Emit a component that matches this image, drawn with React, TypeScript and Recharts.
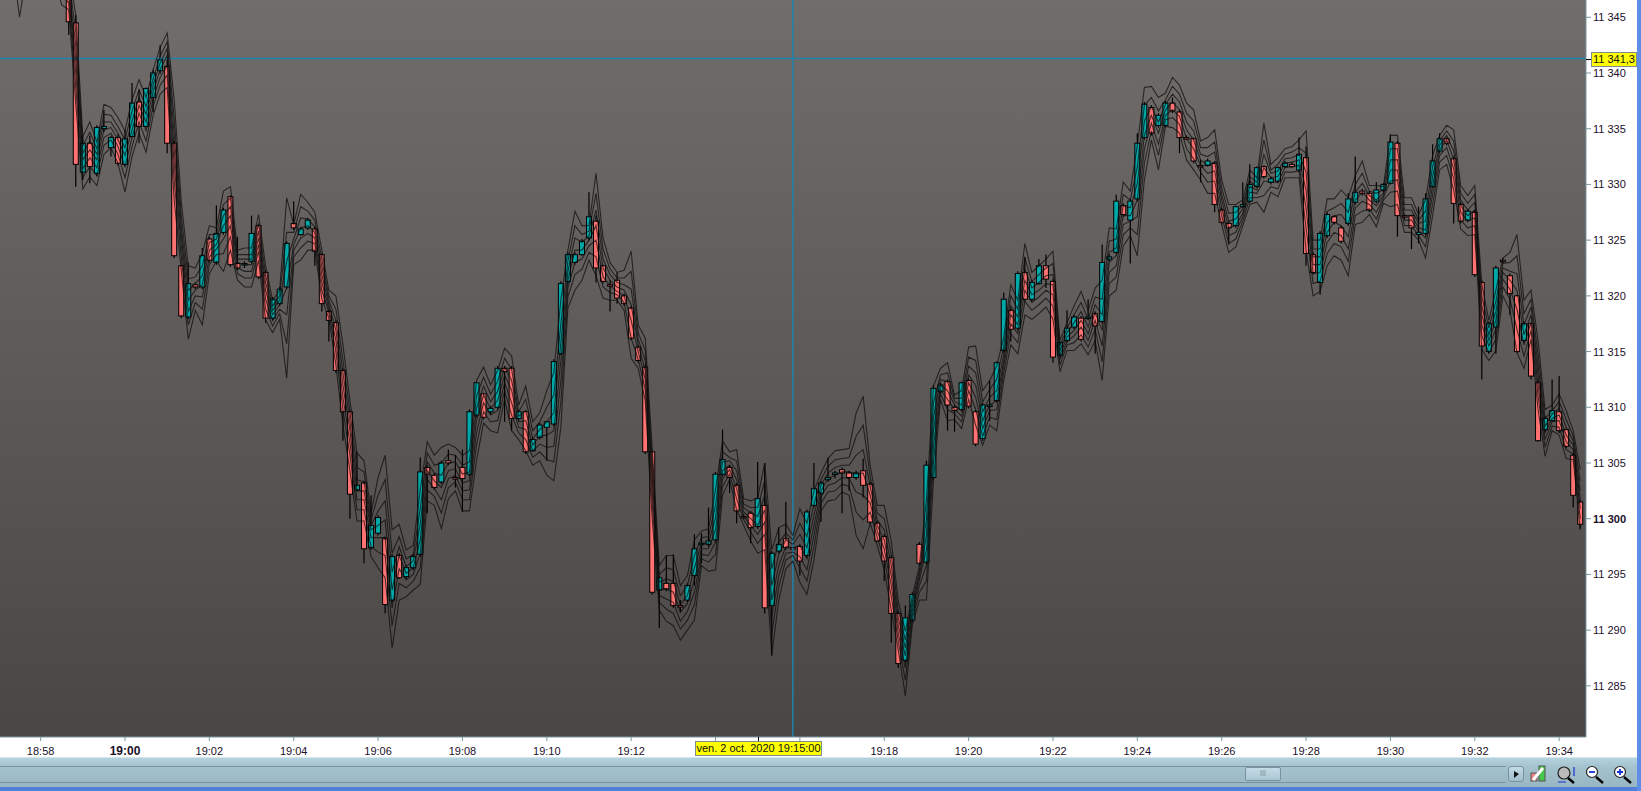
import React from "react";
import {
  ComposedChart,
  Bar,
  Line,
  XAxis,
  YAxis,
  CartesianGrid,
  ReferenceLine,
} from "recharts";

const BASE = 11300;
const FIRST_BAR = -17;

const xTicks = [-12, 0, 12, 24, 36, 48, 60, 72, 84, 96, 108, 120, 132, 144, 156, 168, 180, 192, 204];
const xTickLabels = ["18:58", "19:00", "19:02", "19:04", "19:06", "19:08", "19:10", "19:12", "", "", "19:18", "19:20", "19:22", "19:24", "19:26", "19:28", "19:30", "19:32", "19:34"];
const yTicks = [11285, 11290, 11295, 11300, 11305, 11310, 11315, 11320, 11325, 11330, 11335, 11340, 11345];

const crossPrice = 11341.3;
const crossBar = 95;
const crossPriceLabel = "11 341,3";
const crossTimeLabel = "ven. 2 oct. 2020 19:15:00";

const N = null;
const opens = [N, N, N, N, N, N, N, N, N,
  47.0, 44.5, 31.1, 33.7, 31.0, 35.0, 33.3, 34.2,
  31.8, 34.3, 37.4, 35.2, 37.8, 40.2, 40.6, 33.7, 22.7, 18.1, 21.0, 20.8,
  25.1, 23.0, 25.7, 28.9, 22.9, 22.8, 23.1, 26.3, 22.1, 18.0, 19.3, 20.8,
  26.5, 25.5, 26.1, 26.0, 23.7, 18.6, 17.6, 13.3, 9.6, 2.6, 3.2, -2.6,
  -1.3, -1.8, -7.3, -3.3, -5.2, -4.4, -3.2, 4.6, 3.9, 3.3, 5.2, 3.7,
  4.6, 4.0, 9.3, 11.2, 9.6, 10.0, 13.5, 13.5, 9.0, 9.6, 6.1, 7.3,
  8.2, 8.5, 14.8, 21.3, 23.0, 23.7, 25.2, 26.7, 22.7, 21.0, 21.4, 20.0,
  18.9, 15.4, 13.6, 6.0, -6.4, -5.8, -5.8, -7.8, -7.3, -5.1, -2.3, -2.3,
  -1.9, 4.0, 4.6, 3.0, 0.2, 0.5, -0.7, 1.2, -7.8, -2.9, -1.8, -2.6,
  -2.5, -3.3, 1.2, 2.3, 3.5, 4.0, 4.4, 4.1, 3.7, 4.3, 3.1, -0.4,
  -1.6, -3.5, -8.5, -12.7, -9.1, -2.3, -3.9, 3.7, 11.4, 12.3, 10.0, 9.8,
  12.4, 9.6, 7.2, 10.1, 10.6, 15.1, 18.7, 17.1, 22.1, 19.7, 21.1, 22.7,
  21.3, 14.7, 16.0, 17.2, 18.0, 18.0, 18.4, 17.7, 23.3, 23.9, 28.1, 26.8,
  28.7, 34.2, 36.9, 35.3, 35.3, 37.3, 36.5, 34.2, 34.1, 31.7, 31.7, 31.9,
  27.7, 26.5, 26.3, 28.0, 28.5, 29.8, 31.6, 30.2, 30.3, 31.6, 31.8, 31.3,
  32.4, 23.7, 21.2, 25.4, 27.1, 26.1, 26.5, 28.4, 29.4, 29.2, 28.5, 29.5,
  30.1, 33.7, 27.2, 27.2, 25.5, 25.6, 29.8, 33.0, 34.1, 32.3, 28.2, 26.8,
  27.5, 21.2, 15.0, 17.2, 23.2, 21.8, 20.0, 16.0, 17.5, 12.2, 8.0, 8.8,
  9.6, 8.0, 5.7, 1.5];

const closes = [N, N, N, N, N, N, N, N, N,
  44.6, 31.8, 33.7, 31.6, 35.1, 35.2, 34.2, 31.9,
  34.1, 37.3, 35.2, 38.6, 40.0, 41.2, 33.7, 23.6, 18.2, 21.1, 20.8, 23.6,
  23.2, 25.6, 27.7, 22.8, 22.5, 22.9, 25.6, 21.7, 18.0, 19.7, 20.6, 24.7,
  26.1, 26.0, 26.8, 24.0, 19.3, 17.8, 13.3, 9.6, 2.2, 3.0, -2.7, -0.6,
  0.1, -7.7, -3.4, -5.3, -4.4, -3.4, 4.2, 4.0, 2.8, 5.0, 5.0, 3.6,
  3.6, 9.6, 12.2, 9.1, 9.9, 13.5, 13.2, 9.0, 9.6, 6.0, 7.1, 8.4,
  8.7, 14.1, 21.1, 23.7, 23.7, 24.9, 27.1, 22.5, 21.3, 20.9, 19.8, 19.3,
  16.2, 14.2, 6.0, -6.6, -5.3, -6.3, -7.8, -7.9, -6.0, -2.7, -2.2, -2.0,
  4.0, 5.3, 3.7, 0.7, 0.1, -0.8, 1.8, -8.0, -3.1, -2.3, -2.6, -2.7,
  -3.8, 0.6, 2.7, 3.2, 3.7, 4.1, 4.1, 3.7, 4.1, 3.0, -0.3, -2.0,
  -3.8, -8.5, -13.0, -8.9, -6.8, -4.0, 4.8, 11.7, 12.0, 10.2, 9.7, 12.2,
  10.1, 6.7, 10.2, 10.2, 14.0, 19.7, 17.0, 22.0, 19.7, 21.2, 22.7, 21.5,
  14.5, 15.8, 17.1, 18.1, 16.1, 18.1, 17.3, 23.0, 23.5, 28.5, 27.3, 28.5,
  33.7, 37.2, 34.6, 36.2, 37.3, 36.6, 34.2, 34.1, 32.1, 31.6, 32.1, 28.2,
  26.6, 26.1, 28.0, 28.2, 30.0, 31.5, 30.7, 30.5, 31.5, 31.9, 31.6, 32.7,
  23.8, 22.1, 25.6, 27.3, 26.6, 24.9, 28.7, 29.3, 29.2, 27.7, 29.5, 30.0,
  33.8, 27.2, 27.1, 26.1, 25.7, 28.7, 32.1, 34.1, 33.7, 28.3, 26.7, 27.6,
  21.9, 15.5, 17.5, 22.5, 23.1, 20.2, 15.0, 17.5, 12.8, 7.0, 9.0, 9.7,
  7.9, 6.5, 2.1, -0.5];

const highs = [N, N, N, N, N, N, N, N, N,
  47.5, 45.2, 34.4, 34.4, 35.3, 36.7, 34.4, 34.5,
  34.9, 39.1, 38.5, 38.7, 40.3, 42.5, 41.2, 33.9, 22.8, 23.0, 21.2, 24.3,
  25.3, 28.1, 27.9, 29.0, 25.3, 23.1, 27.2, 26.4, 22.3, 19.9, 20.8, 24.9,
  28.5, 26.2, 27.0, 26.2, 23.8, 18.8, 17.8, 13.5, 9.7, 6.0, 3.4, 2.1,
  0.3, -1.6, -3.2, -3.1, -4.2, -3.2, 5.5, 4.8, 4.1, 5.2, 6.2, 5.7,
  6.2, 9.8, 12.3, 11.3, 10.1, 13.7, 13.7, 13.7, 9.7, 9.7, 7.3, 8.6,
  8.8, 14.3, 21.3, 23.9, 23.9, 25.1, 29.3, 27.2, 22.8, 21.4, 22.1, 20.2,
  19.1, 15.6, 13.8, 6.1, -5.1, -3.3, -3.2, -7.3, -5.8, -1.4, -1.3, 1.0,
  4.2, 8.0, 4.8, 3.2, 0.4, 0.7, 5.1, 5.0, -2.9, -0.8, 1.5, -2.4,
  -2.3, 0.8, 5.0, 3.4, 5.5, 4.3, 4.6, 4.3, 4.3, 5.4, 3.3, -0.2,
  -1.4, -3.3, -8.3, -7.8, -6.6, -2.1, 5.2, 12.0, 12.2, 12.5, 10.2, 12.3,
  12.6, 9.8, 10.4, 12.4, 14.1, 20.3, 18.9, 22.2, 23.5, 21.4, 23.3, 23.7,
  21.5, 15.9, 18.7, 18.3, 18.2, 19.7, 18.6, 24.6, 23.7, 29.1, 28.3, 28.7,
  34.6, 37.4, 37.1, 36.4, 37.5, 37.8, 36.7, 34.4, 34.2, 32.2, 32.3, 32.1,
  27.9, 26.7, 28.1, 30.2, 31.8, 31.6, 31.7, 30.7, 31.6, 32.1, 32.0, 34.2,
  33.4, 23.9, 25.8, 27.5, 27.2, 26.3, 29.2, 32.5, 29.6, 29.4, 30.2, 30.1,
  34.5, 33.9, 27.3, 27.3, 28.0, 29.2, 33.6, 34.6, 34.2, 32.5, 28.4, 27.8,
  27.7, 21.4, 17.7, 22.7, 23.4, 22.0, 20.1, 17.7, 17.6, 12.4, 9.2, 12.5,
  12.8, 8.1, 5.9, 1.7];

const lows = [N, N, N, N, N, N, N, N, N,
  43.4, 29.8, 30.4, 30.1, 30.7, 34.7, 32.5, 31.7,
  31.6, 34.2, 33.7, 35.1, 36.5, 39.9, 32.8, 23.4, 18.0, 17.9, 20.6, 20.6,
  23.0, 22.8, 25.5, 22.6, 22.3, 22.5, 22.9, 21.5, 17.6, 17.8, 19.1, 20.6,
  25.9, 25.4, 25.9, 22.7, 18.6, 15.9, 13.1, 7.0, 0.0, 2.5, -4.0, -2.8,
  -1.5, -8.5, -7.5, -5.4, -5.4, -4.6, -3.4, 0.5, 2.6, 3.1, 4.8, 2.8,
  0.6, 3.8, 9.1, 8.9, 9.4, 9.8, 8.7, 7.9, 8.8, 5.8, 6.0, 7.1,
  5.2, 8.3, 14.7, 21.1, 22.8, 23.6, 25.0, 21.2, 21.1, 18.6, 19.3, 19.1,
  16.0, 14.0, 5.8, -6.8, -9.8, -6.5, -8.0, -8.4, -7.5, -6.0, -4.0, -2.5,
  -2.1, 3.8, 2.3, -0.4, 0.0, -2.2, -0.9, -8.5, -12.3, -3.1, -2.8, -2.9,
  -5.1, -3.5, 1.0, -0.3, 3.3, 3.6, 0.5, 2.5, 3.5, 1.9, -0.5, -2.1,
  -5.6, -11.1, -13.4, -12.9, -9.3, -4.2, -4.1, 3.5, 11.2, 7.9, 7.8, 9.6,
  9.9, 6.5, 7.0, 8.8, 10.4, 14.9, 15.9, 16.9, 19.5, 19.5, 21.0, 20.7,
  14.0, 14.5, 15.8, 17.0, 15.9, 17.8, 14.8, 17.5, 23.1, 23.7, 27.1, 22.9,
  28.5, 34.0, 34.4, 35.1, 35.1, 36.4, 32.8, 34.0, 31.9, 30.2, 31.6, 27.5,
  26.4, 24.6, 26.1, 27.9, 28.3, 29.7, 30.5, 30.0, 30.1, 31.5, 31.5, 31.1,
  22.7, 21.9, 20.1, 25.2, 26.4, 24.7, 26.3, 28.2, 29.0, 27.5, 28.3, 29.3,
  30.0, 25.3, 26.9, 24.2, 24.7, 25.4, 29.7, 32.8, 33.5, 26.5, 26.5, 26.6,
  21.7, 12.5, 14.8, 14.8, 22.9, 18.3, 14.9, 15.8, 12.5, 6.9, 7.8, 8.7,
  7.7, 6.3, 1.0, -0.9];

const basisBand = [53, 52, 51, 51, 51, 51, 51, 50, 49,
  47.4, 41.2, 32.2, 33.1, 32.2, 34.9, 35.1, 34.0,
  32.6, 34.9, 37.1, 35.6, 38.3, 40.3, 41.6, 33.1, 25.4, 19.6, 20.5, 21.0,
  24.1, 24.6, 26.3, 27.2, 23.0, 22.8, 22.8, 25.2, 20.5, 18.3, 19.2, 20.7,
  24.6, 26.1, 26.3, 25.7, 21.9, 19.2, 16.9, 12.0, 7.9, 2.5, 2.5, -1.0,
  -0.6, -0.1, -6.4, -3.3, -4.9, -4.4, -1.9, 4.3, 3.4, 2.8, 4.3, 4.5,
  3.2, 3.4, 8.8, 11.1, 9.9, 10.6, 12.9, 11.5, 8.7, 8.8, 6.6, 7.4,
  7.5, 7.9, 14.2, 21.4, 24.1, 24.1, 25.0, 26.3, 22.5, 21.4, 20.8, 20.5,
  19.2, 15.6, 13.3, 3.5, -6.4, -6.3, -6.6, -8.4, -7.6, -5.5, -2.7, -2.7,
  -1.0, 4.3, 4.8, 3.5, 0.6, 0.0, -0.6, 0.8, -7.3, -4.2, -2.5, -2.6,
  -2.4, -3.6, -0.6, 2.5, 3.6, 3.9, 4.2, 4.2, 4.0, 4.1, 2.1, -0.6,
  -1.9, -5.1, -9.6, -12.3, -8.2, -5.5, -2.8, 7.9, 12.0, 11.5, 10.2, 9.7,
  12.9, 12.0, 8.8, 10.2, 10.6, 14.2, 18.3, 17.4, 21.4, 20.1, 20.5, 21.1,
  21.0, 14.7, 16.3, 16.9, 17.8, 16.6, 18.5, 16.9, 23.0, 23.6, 27.2, 27.2,
  28.6, 34.4, 36.2, 34.6, 36.7, 37.4, 36.7, 34.9, 34.0, 32.2, 31.7, 32.0,
  28.6, 26.1, 26.3, 27.4, 29.8, 29.5, 31.5, 30.6, 30.7, 31.9, 32.0, 32.2,
  29.5, 22.8, 22.8, 25.7, 26.6, 26.3, 25.3, 28.6, 29.3, 28.6, 28.1, 29.0,
  31.3, 31.3, 27.2, 27.2, 26.1, 25.9, 29.9, 33.1, 34.0, 32.2, 28.1, 27.2,
  27.7, 18.3, 16.0, 17.8, 22.1, 21.4, 20.5, 16.5, 18.3, 12.9, 7.7, 9.0,
  9.3, 7.5, 6.6, 1.7];

const upper3 = [56, 55, 54, 54, 54, 54, 54, 53, 52,
  49.2, 45.2, 34.3, 35.6, 33.8, 37.2, 36.9, 36.0,
  34.8, 37.6, 39.4, 37.8, 40.3, 42.3, 43.6, 37.6, 28.5, 22.7, 22.5, 23.8,
  26.3, 26.1, 29.4, 29.8, 24.1, 24.3, 24.3, 27.3, 22.7, 19.6, 20.5, 28.8,
  26.4, 29.1, 28.4, 27.5, 24.1, 20.5, 20.0, 15.6, 10.6, 5.9, 5.2, 0.5,
  3.7, 5.7, -1.0, -0.5, -2.8, -2.4, 2.6, 6.9, 5.7, 6.4, 6.7, 6.4,
  5.7, 6.1, 12.4, 13.6, 12.0, 13.3, 15.3, 14.6, 10.2, 11.9, 8.7, 9.5,
  11.5, 13.1, 19.6, 24.1, 27.6, 26.3, 26.3, 31.0, 25.2, 23.0, 22.1, 22.3,
  24.0, 17.4, 16.2, 6.2, -4.2, -3.3, -3.3, -6.0, -5.1, -1.9, -1.1, -0.9,
  2.6, 7.0, 6.0, 6.2, 1.8, 1.6, 1.9, 5.0, -2.8, -0.8, -0.5, -1.5,
  0.9, -0.4, 2.5, 4.1, 5.4, 6.1, 6.2, 6.3, 9.5, 11.0, 4.8, 1.2,
  1.2, -2.0, -7.4, -10.1, -6.9, -4.2, 1.7, 11.9, 13.5, 14.0, 11.1, 11.5,
  15.4, 15.5, 11.5, 12.4, 13.7, 16.3, 21.0, 19.6, 24.7, 22.1, 22.7, 23.3,
  24.0, 16.0, 17.6, 19.1, 20.4, 18.7, 20.7, 21.4, 26.1, 26.0, 30.2, 29.4,
  33.5, 38.7, 38.8, 37.8, 38.2, 39.6, 38.9, 37.3, 36.7, 33.9, 34.2, 34.9,
  30.4, 28.2, 28.2, 28.6, 31.3, 30.6, 35.5, 31.8, 32.4, 33.2, 33.4, 34.0,
  34.8, 25.0, 25.0, 28.7, 28.7, 29.5, 28.8, 30.8, 32.1, 29.9, 29.9, 29.8,
  34.4, 34.4, 28.8, 28.8, 27.3, 28.6, 32.6, 34.4, 35.3, 34.9, 29.9, 29.0,
  29.9, 21.0, 17.8, 20.5, 23.4, 23.9, 25.5, 19.6, 20.5, 16.0, 9.8, 10.2,
  11.2, 9.7, 7.9, 4.4];

const upper2 = [55, 54, 53, 53, 53, 53, 53, 52, 51,
  48.5, 43.7, 33.5, 34.7, 33.2, 36.3, 36.2, 35.2,
  34.0, 36.6, 38.5, 37.0, 39.5, 41.5, 42.8, 35.9, 27.3, 21.5, 21.7, 22.7,
  25.5, 25.5, 28.2, 28.8, 23.7, 23.7, 23.7, 26.5, 21.9, 19.1, 20.0, 25.7,
  25.7, 28.0, 27.6, 26.8, 23.3, 20.0, 18.8, 14.2, 9.6, 4.6, 4.2, -0.1,
  2.1, 3.5, -3.1, -1.6, -3.6, -3.2, 0.9, 5.9, 4.8, 5.0, 5.8, 5.7,
  4.8, 5.1, 11.0, 12.7, 11.2, 12.3, 14.4, 13.4, 9.6, 10.7, 7.9, 8.7,
  10.0, 11.1, 17.5, 23.1, 26.3, 25.5, 25.8, 29.2, 24.2, 22.4, 21.6, 21.6,
  22.2, 16.7, 15.1, 5.2, -5.0, -4.4, -4.6, -6.9, -6.0, -3.3, -1.7, -1.6,
  1.2, 6.0, 5.5, 5.2, 1.3, 1.0, 1.0, 3.4, -4.5, -2.1, -1.3, -1.9,
  -0.4, -1.6, 1.3, 3.5, 4.7, 5.3, 5.4, 5.5, 7.4, 8.4, 3.8, 0.5,
  0.0, -3.2, -8.2, -10.9, -7.4, -4.7, 0.0, 10.4, 12.9, 13.1, 10.8, 10.8,
  14.5, 14.2, 10.5, 11.6, 12.5, 15.5, 20.0, 18.8, 23.4, 21.3, 21.9, 22.5,
  22.9, 15.5, 17.1, 18.3, 19.4, 17.9, 19.9, 19.7, 24.9, 25.1, 29.1, 28.6,
  31.6, 37.1, 37.8, 36.6, 37.6, 38.8, 38.1, 36.4, 35.7, 33.3, 33.3, 33.8,
  29.7, 27.4, 27.5, 28.1, 30.7, 30.2, 34.0, 31.3, 31.8, 32.7, 32.9, 33.3,
  32.8, 24.2, 24.2, 27.6, 27.9, 28.3, 27.5, 30.0, 31.0, 29.4, 29.2, 29.5,
  33.2, 33.2, 28.2, 28.2, 26.8, 27.6, 31.6, 33.9, 34.8, 33.9, 29.2, 28.3,
  29.1, 20.0, 17.1, 19.5, 22.9, 23.0, 23.6, 18.4, 19.7, 14.8, 9.0, 9.7,
  10.5, 8.9, 7.4, 3.4];

const upper1 = [54, 53, 52, 52, 52, 52, 52, 51, 50,
  47.9, 42.4, 32.8, 33.9, 32.7, 35.6, 35.6, 34.6,
  33.3, 35.7, 37.8, 36.3, 38.9, 40.9, 42.2, 34.5, 26.3, 20.5, 21.1, 21.8,
  24.8, 25.1, 27.2, 28.0, 23.3, 23.3, 23.3, 25.8, 21.2, 18.7, 19.6, 23.1,
  25.1, 27.0, 26.9, 26.2, 22.6, 19.6, 17.8, 13.1, 8.7, 3.5, 3.3, -0.6,
  0.7, 1.6, -4.8, -2.5, -4.3, -3.8, -0.5, 5.1, 4.1, 3.9, 5.0, 5.1,
  4.0, 4.2, 9.9, 11.9, 10.5, 11.4, 13.6, 12.4, 9.2, 9.7, 7.2, 8.0,
  8.7, 9.5, 15.8, 22.2, 25.2, 24.8, 25.4, 27.7, 23.3, 21.9, 21.2, 21.0,
  20.6, 16.1, 14.2, 4.3, -5.7, -5.4, -5.6, -7.7, -6.9, -4.4, -2.2, -2.2,
  0.1, 5.1, 5.2, 4.3, 1.0, 0.5, 0.2, 2.1, -6.0, -3.2, -1.9, -2.3,
  -1.4, -2.6, 0.3, 3.0, 4.1, 4.6, 4.8, 4.8, 5.7, 6.2, 2.9, -0.1,
  -1.0, -4.2, -8.9, -11.6, -7.8, -5.1, -1.5, 9.1, 12.5, 12.3, 10.5, 10.2,
  13.7, 13.1, 9.6, 10.9, 11.5, 14.8, 19.1, 18.1, 22.4, 20.7, 21.2, 21.8,
  21.9, 15.1, 16.7, 17.6, 18.6, 17.2, 19.2, 18.3, 23.9, 24.3, 28.1, 27.9,
  30.1, 35.7, 37.0, 35.6, 37.2, 38.1, 37.4, 35.6, 34.8, 32.7, 32.5, 32.9,
  29.1, 26.7, 26.9, 27.8, 30.3, 29.8, 32.7, 31.0, 31.2, 32.3, 32.4, 32.7,
  31.1, 23.5, 23.5, 26.6, 27.2, 27.3, 26.4, 29.3, 30.1, 29.0, 28.6, 29.2,
  32.2, 32.2, 27.7, 27.7, 26.5, 26.7, 30.7, 33.5, 34.4, 33.0, 28.6, 27.7,
  28.4, 19.1, 16.5, 18.6, 22.5, 22.2, 22.0, 17.4, 19.0, 13.8, 8.3, 9.4,
  9.9, 8.2, 7.0, 2.5];

const lower1 = [52.5, 51.5, 49.5, 50.5, 50.5, 50.5, 50.5, 49.5, 48,
  46.9, 40.0, 31.4, 32.4, 31.5, 34.2, 34.6, 33.4,
  31.6, 34.2, 36.4, 34.8, 37.7, 39.6, 40.7, 31.8, 24.5, 18.6, 20.0, 19.9,
  23.5, 24.2, 25.1, 26.3, 22.5, 22.2, 22.2, 24.6, 19.7, 17.8, 18.8, 18.3,
  24.1, 25.2, 25.6, 25.2, 21.2, 18.8, 16.0, 10.9, 6.8, 1.7, 1.7, -1.7,
  -1.7, -1.7, -8.0, -4.5, -5.5, -5.0, -3.1, 3.5, 2.7, 1.7, 3.6, 3.9,
  2.5, 2.6, 7.7, 10.4, 9.3, 9.7, 12.2, 10.4, 8.2, 8.0, 6.1, 6.7,
  6.4, 6.5, 12.4, 20.7, 23.0, 23.3, 24.5, 25.0, 21.7, 20.9, 20.4, 20.0,
  17.8, 15.0, 12.5, 2.4, -6.9, -7.2, -7.5, -9.2, -8.3, -6.6, -3.2, -3.3,
  -2.1, 3.6, 4.4, 2.7, 0.2, -0.6, -1.4, -0.3, -8.8, -5.1, -3.1, -3.0,
  -3.4, -4.6, -1.5, 2.0, 3.0, 3.2, 3.7, 3.6, 2.4, 2.1, 1.4, -1.1,
  -2.7, -6.0, -10.3, -13.4, -8.6, -6.0, -4.2, 6.5, 11.6, 10.7, 9.8, 9.2,
  12.2, 10.9, 8.1, 9.7, 9.8, 13.7, 17.5, 16.6, 20.5, 19.4, 19.9, 20.5,
  20.1, 14.3, 15.9, 16.4, 17.2, 16.0, 17.8, 15.5, 22.1, 22.7, 26.4, 26.7,
  27.1, 33.2, 35.5, 33.6, 36.2, 36.7, 36.1, 34.1, 33.2, 31.7, 31.0, 31.2,
  27.9, 25.4, 25.7, 27.1, 29.3, 29.2, 30.3, 30.2, 30.2, 31.5, 31.6, 31.7,
  27.9, 22.0, 22.1, 24.8, 25.7, 25.4, 24.2, 27.9, 28.5, 28.2, 27.5, 28.8,
  30.3, 30.4, 26.8, 26.8, 25.8, 25.2, 29.1, 32.6, 33.3, 31.4, 27.5, 26.7,
  27.0, 17.4, 15.5, 17.0, 21.5, 20.6, 18.8, 15.6, 17.6, 12.0, 7.1, 8.7,
  8.8, 6.9, 6.2, 0.9];

const lower2 = [52.2, 51, 47.5, 50, 50.3, 50.3, 50.3, 49, 47,
  46.3, 38.7, 30.6, 31.6, 30.8, 33.5, 34.0, 32.7,
  30.6, 33.4, 35.6, 33.9, 37.0, 38.9, 39.8, 30.3, 23.5, 17.4, 19.4, 18.8,
  22.8, 23.7, 23.8, 25.3, 22.0, 21.6, 21.6, 24.0, 18.8, 17.3, 18.4, 15.7,
  23.5, 24.3, 24.9, 24.7, 20.5, 18.5, 15.0, 9.8, 5.7, 0.8, 0.8, -2.5,
  -3.0, -3.3, -9.6, -5.8, -6.2, -5.6, -4.4, 2.6, 2.0, 0.5, 2.8, 3.3,
  1.7, 1.7, 6.6, 9.6, 8.7, 8.8, 11.5, 9.3, 7.7, 7.1, 5.5, 6.0,
  5.3, 5.1, 10.5, 19.9, 21.9, 22.4, 23.9, 23.5, 20.8, 20.3, 20.1, 19.4,
  16.2, 14.3, 11.6, 1.3, -7.5, -8.1, -8.5, -9.9, -9.1, -7.7, -3.6, -3.9,
  -3.2, 2.9, 4.0, 1.8, -0.1, -1.2, -2.2, -1.4, -10.3, -6.1, -3.7, -3.3,
  -4.4, -5.6, -2.5, 1.4, 2.4, 2.5, 3.1, 2.9, 0.6, -0.1, 0.6, -1.7,
  -3.6, -7.0, -11.0, -14.5, -9.0, -6.6, -5.6, 5.1, 11.2, 9.8, 9.4, 8.7,
  11.5, 9.8, 7.4, 9.1, 8.9, 13.1, 16.6, 15.8, 19.5, 18.7, 19.2, 19.8,
  19.1, 13.8, 15.6, 15.8, 16.5, 15.4, 17.0, 14.1, 21.1, 21.7, 25.5, 26.1,
  25.5, 31.9, 34.8, 32.6, 35.8, 36.0, 35.4, 33.2, 32.3, 31.1, 30.2, 30.3,
  27.2, 24.7, 25.1, 26.7, 28.8, 28.8, 29.0, 29.8, 29.6, 31.1, 31.1, 31.2,
  26.1, 21.1, 21.3, 23.8, 24.7, 24.4, 23.1, 27.2, 27.6, 27.8, 26.9, 28.6,
  29.3, 29.4, 26.3, 26.3, 25.4, 24.4, 28.2, 32.0, 32.6, 30.5, 26.8, 26.1,
  26.3, 16.4, 14.9, 16.1, 20.8, 19.7, 17.0, 14.6, 16.9, 11.0, 6.4, 8.3,
  8.2, 6.2, 5.8, 0.0];

const lower3 = [52, 50, 45, 49, 50, 50, 50, 48.5, 46.1,
  45.7, 37.2, 29.6, 30.7, 29.9, 32.7, 33.3, 31.9,
  29.3, 32.5, 34.6, 32.9, 36.2, 38.1, 38.7, 28.6, 22.3, 16.1, 18.7, 17.4,
  22.0, 23.1, 22.2, 24.1, 21.4, 20.8, 20.8, 23.2, 17.8, 16.7, 17.9, 12.6,
  22.8, 23.2, 24.1, 24.1, 19.7, 18.0, 13.8, 8.4, 4.3, -0.2, -0.2, -3.4,
  -4.4, -5.3, -11.6, -7.3, -7.0, -6.4, -5.9, 1.6, 1.2, -0.9, 1.8, 2.5,
  0.7, 0.7, 5.2, 8.6, 7.9, 7.7, 10.7, 7.9, 7.1, 6.1, 4.8, 5.2,
  3.9, 3.4, 8.2, 18.9, 20.5, 21.4, 23.2, 21.8, 19.8, 19.6, 19.6, 18.7,
  14.4, 13.5, 10.6, -0.1, -8.2, -9.2, -9.6, -10.9, -10.0, -9.1, -4.2, -4.7,
  -4.6, 2.1, 3.5, 0.8, -0.6, -2.0, -3.1, -2.8, -12.2, -7.3, -4.5, -3.8,
  -5.7, -6.8, -3.7, 0.7, 1.6, 1.7, 2.4, 2.1, -1.5, -2.7, -0.4, -2.4,
  -4.6, -8.2, -11.8, -15.9, -9.5, -7.3, -7.3, 3.4, 10.7, 8.8, 8.9, 8.1,
  10.7, 8.4, 6.6, 8.4, 7.9, 12.4, 15.6, 14.8, 18.3, 17.9, 18.4, 19.0,
  17.9, 13.2, 15.1, 15.1, 15.7, 14.7, 16.0, 12.4, 20.0, 20.5, 24.5, 25.4,
  23.6, 30.4, 34.0, 31.3, 35.2, 35.1, 34.6, 32.2, 31.3, 30.4, 29.2, 29.2,
  26.4, 23.9, 24.4, 26.3, 28.2, 28.4, 27.5, 29.3, 28.9, 30.6, 30.6, 30.6,
  24.1, 20.0, 20.4, 22.7, 23.6, 23.2, 21.8, 26.4, 26.6, 27.3, 26.2, 28.3,
  28.0, 28.2, 25.7, 25.7, 25.0, 23.4, 27.2, 31.3, 31.8, 29.5, 26.0, 25.4,
  25.5, 15.2, 14.2, 15.1, 20.0, 18.7, 14.9, 13.5, 16.1, 9.8, 5.6, 7.9,
  7.5, 5.4, 5.3, -1.0];

const abs = (v: number | null) => (v === null || v === undefined ? null : BASE + v);

const rows = basisBand.map((b, i) => ({
  bar: i + FIRST_BAR,
  open: abs(opens[i]),
  close: abs(closes[i]),
  high: abs(highs[i]),
  low: abs(lows[i]),
  range: highs[i] === null || highs[i] === undefined ? null : [abs(lows[i]), abs(highs[i])],
  basis: abs(b),
  u3: abs(upper3[i]),
  u2: abs(upper2[i]),
  u1: abs(upper1[i]),
  l1: abs(lower1[i]),
  l2: abs(lower2[i]),
  l3: abs(lower3[i]),
}));

const bandKeys = ["u3", "u2", "u1", "basis", "l1", "l2", "l3"];

const FONT = '"Liberation Sans", Arial, sans-serif';
const TEXT = "#1b0f2a";
const UP = "#00A9A9";
const DOWN = "#FF7272";
const CROSS = "#1f82aa";
const AXIS = "#7d96a1";

function Candle(props: any) {
  const { x, y, width, height, payload } = props;
  if (!payload || payload.open === null || payload.high === null) return null;
  const { open, close, high, low } = payload;
  const unit = height / (high - low);
  const top = y + (high - Math.max(open, close)) * unit;
  const bodyH = Math.max(Math.abs(open - close) * unit, 1.5);
  const cx = x + width / 2;
  return (
    <g>
      <line x1={cx} x2={cx} y1={y} y2={y + height} stroke="#000" strokeWidth={1.2} />
      <rect
        x={x}
        y={top}
        width={width}
        height={bodyH}
        fill={close >= open ? UP : DOWN}
        stroke="#000"
        strokeWidth={1}
      />
    </g>
  );
}

function TimeTick(props: any) {
  const { x, y, payload } = props;
  const label = xTickLabels[xTicks.indexOf(payload.value)];
  if (!label) return null;
  return (
    <text
      x={x}
      y={y + 12}
      textAnchor="middle"
      fontFamily={FONT}
      fontSize={label === "19:00" ? 12 : 11}
      fontWeight={label === "19:00" ? 700 : 400}
      fill={TEXT}
    >
      {label}
    </text>
  );
}

function PriceTick(props: any) {
  const { x, y, payload } = props;
  const v = String(payload.value);
  const label = v.slice(0, 2) + " " + v.slice(2);
  return (
    <text
      x={x}
      y={y + 4}
      textAnchor="start"
      fontFamily={FONT}
      fontSize={11}
      fontWeight={payload.value === BASE ? 700 : 400}
      fill={TEXT}
    >
      {label}
    </text>
  );
}

const yellowBox: React.CSSProperties = {
  position: "absolute",
  background: "#ffff00",
  border: "1px solid #7d8c8f",
  boxSizing: "border-box",
  color: "#111",
  fontFamily: FONT,
  fontSize: 11,
  textAlign: "center",
  whiteSpace: "nowrap",
};

function Toolbar() {
  return (
    <>
      <div style={{ position: "absolute", left: 0, top: 757, width: 1637, height: 30, background: "linear-gradient(#b4d3df, #a4c3cf 30%, #98b6c2)", borderTop: "1px solid #d5e6ec", boxSizing: "border-box" }} />
      <div style={{ position: "absolute", left: 0, top: 766, width: 1506, height: 15, borderTop: "1px solid #7a929c", borderBottom: "1px solid #7a929c", boxSizing: "content-box" }} />
      <div style={{ position: "absolute", left: 1245, top: 767, width: 36, height: 14, background: "linear-gradient(#c3dce6, #a9c7d3)", border: "1px solid #7a929c", borderRadius: 2, boxSizing: "border-box" }} />
      <div style={{ position: "absolute", left: 1508, top: 766, width: 16, height: 16, background: "linear-gradient(#c3dce6, #9fbdc9)", border: "1px solid #7a929c", borderRadius: 3, boxSizing: "border-box" }} />
      <svg style={{ position: "absolute", left: 0, top: 757 }} width={1637} height={30}>
        <path d="M1514 14 L1519 17 L1514 21 Z" fill="#111" />
        <path d="M1260 14 H1266 M1260 16 H1266 M1260 18 H1266" stroke="#7a929c" strokeWidth={0.8} />
        <rect x={1531} y={16} width={6} height={8} fill="#e88" stroke="#555" />
        <rect x={1539} y={9} width={6} height={15} fill="#46c84a" stroke="#555" />
        <path d="M1533 23 L1543 11" stroke="#fff" strokeWidth={3} />
        <circle cx={1564} cy={16} r={6} fill="#bbb" stroke="#222" strokeWidth={1.2} />
        <path d="M1568 21 L1574 26" stroke="#000" strokeWidth={2.4} />
        <path d="M1574 10 V19 M1558 25 H1566" stroke="#1530d0" strokeWidth={1.2} />
        <circle cx={1592} cy={15} r={5.5} fill="#fff" stroke="#222" strokeWidth={1.2} />
        <path d="M1589 15 H1595" stroke="#1530d0" strokeWidth={1.8} />
        <path d="M1596 20 L1603 26" stroke="#000" strokeWidth={2.4} />
        <circle cx={1620} cy={15} r={5.5} fill="#fff" stroke="#222" strokeWidth={1.2} />
        <path d="M1617 15 H1623 M1620 12 V18" stroke="#1530d0" strokeWidth={1.8} />
        <path d="M1624 20 L1631 26" stroke="#000" strokeWidth={2.4} />
      </svg>
      <div style={{ position: "absolute", left: 0, top: 787, width: 1641, height: 4, background: "#4f7fd8" }} />
      <div style={{ position: "absolute", left: 1637, top: 0, width: 4, height: 791, background: "#5f8ee6" }} />
    </>
  );
}

export default function App() {
  return (
    <div style={{ position: "fixed", left: 0, top: 0, width: 1641, height: 791, background: "#fff", overflow: "hidden" }}>
      <ComposedChart
        width={1637}
        height={757}
        data={rows}
        margin={{ top: 0, right: 0, bottom: 0, left: 0 }}
      >
        <defs>
          <linearGradient id="plotBg" x1="0" y1="0" x2="0" y2="1">
            <stop offset="0%" stopColor="#716d6b" />
            <stop offset="100%" stopColor="#4a4645" />
          </linearGradient>
        </defs>
        <CartesianGrid horizontal={false} vertical={false} fill="url(#plotBg)" />
        <XAxis
          dataKey="bar"
          type="number"
          domain={[-17.78, 207.82]}
          allowDataOverflow
          ticks={xTicks}
          interval={0}
          height={20}
          tick={<TimeTick />}
          tickLine={{ stroke: AXIS }}
          tickSize={4}
          axisLine={{ stroke: AXIS }}
        />
        <YAxis
          orientation="right"
          type="number"
          domain={[11280.41, 11346.55]}
          allowDataOverflow
          ticks={yTicks}
          interval={0}
          width={51}
          tick={<PriceTick />}
          tickLine={{ stroke: AXIS }}
          tickSize={5}
          axisLine={{ stroke: AXIS }}
        />
        <ReferenceLine y={crossPrice} stroke={CROSS} strokeWidth={1.5} />
        <ReferenceLine x={crossBar} stroke={CROSS} strokeWidth={1.5} />
        <Bar
          dataKey="range"
          barSize={5}
          isAnimationActive={false}
          shape={<Candle />}
        />
        {bandKeys.map((key) => (
          <Line
            key={key}
            dataKey={key}
            type="linear"
            dot={false}
            activeDot={false}
            stroke="#0c0c0c"
            strokeOpacity={0.72}
            strokeWidth={1.1}
            isAnimationActive={false}
            connectNulls
          />
        ))}
      </ComposedChart>
      <div style={{ ...yellowBox, left: 1591, top: 52, width: 46, height: 15, lineHeight: "13px" }}>{crossPriceLabel}</div>
      <div style={{ position: "absolute", left: 1586, top: 59, width: 5, height: 1, background: "#000" }} />
      <div style={{ position: "absolute", left: 758, top: 737, width: 1, height: 4, background: "#000" }} />
      <div style={{ ...yellowBox, left: 695, top: 741, width: 127, height: 15, lineHeight: "13px" }}>{crossTimeLabel}</div>
      <Toolbar />
    </div>
  );
}
